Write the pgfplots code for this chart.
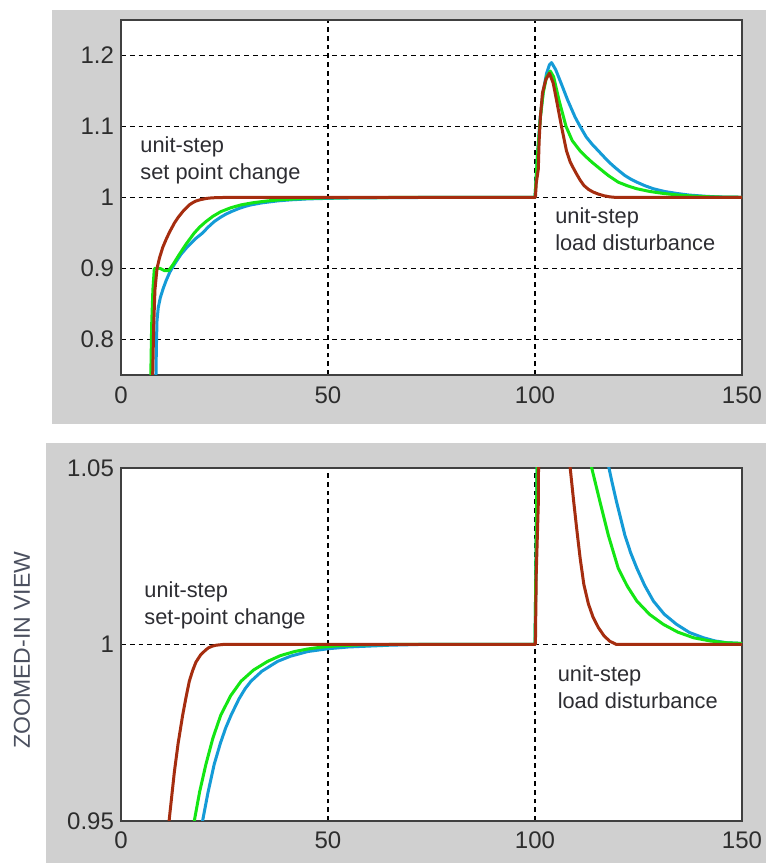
\documentclass[border=0pt]{standalone}
\usepackage{pgfplots}
\usepackage{pgfplotstable}
\pgfplotsset{compat=1.18}
\usepackage{fontspec}
\setmainfont{Liberation Sans}
\definecolor{panelgray}{RGB}{208,208,208}
\definecolor{cbrown}{RGB}{165,45,15}
\definecolor{cblue}{RGB}{20,155,215}
\definecolor{cgreen}{RGB}{20,230,20}
\definecolor{ticktext}{RGB}{45,45,45}
\definecolor{annot}{RGB}{45,45,50}
\definecolor{zoomlabel}{RGB}{75,80,95}

\pgfplotstableread{
x y
8.4 0.6
8.45 0.75
8.55 0.79
8.7 0.827
9.0 0.845
9.5 0.859
10.2 0.872
10.9 0.883
11.8 0.895
12.9 0.906
14.5 0.92
16.1 0.931
18.0 0.942
19.7 0.95
21.0 0.958
22.5 0.966
24.0 0.972
25.3 0.9764
26.6 0.980
28.5 0.9846
30.0 0.9875
31.4 0.9896
34.0 0.9924
37.8 0.9952
41.0 0.9967
45.1 0.998
50.0 0.9988
55.0 0.9993
59.0 0.9995
65.0 0.9998
72.0 1.0
100.0 1.0
100.6 1.06
101.3 1.115
102.0 1.15
102.8 1.175
103.5 1.187
104.0 1.19
105.0 1.18
106.3 1.161
107.9 1.137
109.7 1.113
110.9 1.1
112.4 1.085
113.8 1.075
115.3 1.0657
117.5 1.052
118.6 1.046
119.7 1.0404
121.7 1.031
123.1 1.026
124.6 1.0216
126.5 1.0167
128.6 1.0123
131.2 1.0086
134.2 1.0057
137.3 1.0034
140.7 1.0019
143.5 1.001
146.3 1.0005
150.0 1.0003
}\blueData

\pgfplotstableread{
x y
7.1 0.6
7.2 0.75
7.4 0.82
7.7 0.87
8.05 0.9
9.5 0.9
10.5 0.897
11.5 0.897
12.5 0.905
14.1 0.92
15.8 0.935
17.7 0.95
19.0 0.9583
20.5 0.966
22.2 0.9735
24.1 0.980
26.5 0.9855
29.0 0.9896
32.0 0.99275
35.4 0.9952
38.5 0.99684
41.9 0.998
45.0 0.9987
48.0 0.9992
52.0 0.9996
58.0 0.9999
65.0 1.0
100.0 1.0
100.6 1.06
101.3 1.113
102.0 1.148
102.8 1.17
103.7 1.178
104.5 1.17
105.8 1.137
107.5 1.1
109.0 1.08
110.9 1.0657
112.3 1.0575
113.7 1.05
115.7 1.0404
117.7 1.031
120.1 1.0216
122.3 1.0165
124.6 1.0123
127.7 1.0085
131.0 1.0057
134.5 1.0035
138.3 1.0019
142.3 1.001
146.0 1.0005
150.0 1.0003
}\greenData

\pgfplotstableread{
x y
7.55 0.6
7.65 0.75
7.9 0.82
8.2 0.87
8.7 0.9
9.3 0.915
10.1 0.93
10.9 0.941
11.7 0.951
12.9 0.964
13.8 0.972
14.9 0.98
15.7 0.985
16.5 0.9896
17.3 0.9926
18.1 0.995
19.2 0.997
20.5 0.9985
21.2 0.9991
22.0 0.9995
23.0 0.9998
24.6 1.0
100.1 1.0
100.3 1.02
100.8 1.04
101.0 1.08
101.3 1.113
101.8 1.147
102.6 1.166
103.5 1.175
104.4 1.161
105.2 1.137
106.4 1.1
107.6 1.0657
108.5 1.05
109.3 1.041
110.1 1.0325
110.9 1.0245
111.8 1.017
112.9 1.0115
114.0 1.0078
115.3 1.0048
116.7 1.0024
118.1 1.0009
119.7 1.0
150.0 1.0
}\brownData

\pgfplotsset{
  mystyle/.style={
    scale only axis, width=310.5pt,
    xmin=0, xmax=150,
    xtick={0,50,100,150}, xticklabels={0,50,100,150},
    grid=major,
    major grid style={black, line width=0.9pt, dash pattern=on 2.4pt off 2pt},
    axis line style={draw=black!75, line width=1pt},
    major tick length=0pt,
    tick label style={font=\fontsize{12}{14}\selectfont, text=ticktext},
    /pgf/number format/assume math mode=true,
    every axis plot/.append style={line width=1.5pt, line join=round, no markers},
  }
}

\begin{document}
\begin{tikzpicture}
\path[use as bounding box] (0,0) rectangle (383pt,431.5pt);
\fill[panelgray] (26pt,219.5pt) rectangle (383pt,426.5pt);
\fill[panelgray] (23pt,0pt) rectangle (383pt,210pt);

\begin{axis}[mystyle, at={(60.5pt,244pt)}, anchor=south west, height=177.5pt,
  ymin=0.75, ymax=1.25, ytick={0.8,0.9,1,1.1,1.2}, yticklabels={0.8,0.9,1,1.1,1.2},
  xticklabel style={yshift=-2.5pt}, axis background/.style={fill=white}]
  \addplot[cblue] table[x=x,y=y] {\blueData};
  \addplot[cgreen] table[x=x,y=y] {\greenData};
  \addplot[cbrown] table[x=x,y=y] {\brownData};
  \node[anchor=west, align=left, inner sep=0pt, text=annot, font=\fontsize{10.9}{13.5}\selectfont]
    at (axis cs:4.6,1.0529) {unit-step\\set point change};
  \node[anchor=west, align=left, inner sep=0pt, text=annot, font=\fontsize{10.9}{13.5}\selectfont]
    at (axis cs:104.8,0.956) {unit-step\\load disturbance};
\end{axis}

\begin{axis}[mystyle, at={(60.5pt,21pt)}, anchor=south west, height=176.5pt,
  ymin=0.95, ymax=1.05, ytick={0.95,1,1.05}, yticklabels={0.95,1,1.05},
  xticklabel style={yshift=-2pt}, axis background/.style={fill=white}]
  \addplot[cblue] table[x=x,y=y] {\blueData};
  \addplot[cgreen] table[x=x,y=y] {\greenData};
  \addplot[cbrown] table[x=x,y=y] {\brownData};
  \node[anchor=west, align=left, inner sep=0pt, text=annot, font=\fontsize{10.9}{13.5}\selectfont]
    at (axis cs:5.56,1.01096) {unit-step\\set-point change};
  \node[anchor=west, align=left, inner sep=0pt, text=annot, font=\fontsize{10.9}{13.5}\selectfont]
    at (axis cs:105.4,0.98778) {unit-step\\load disturbance};
\end{axis}

\node[rotate=90, text=zoomlabel, font=\fontsize{11.5}{13}\selectfont] at (11pt,106.5pt) {ZOOMED-IN VIEW};
\end{tikzpicture}
\end{document}
